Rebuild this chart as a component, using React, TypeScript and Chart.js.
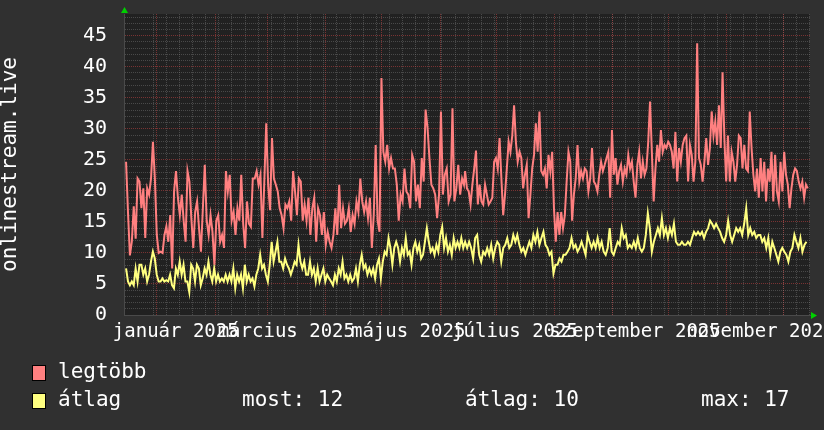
import React, { useEffect, useRef } from 'react';
import { Chart, registerables } from 'chart.js';

Chart.register(...registerables);

// ---------- data ----------
const SERIES_LABELS = ['legtöbb', 'átlag'];
const Y_TITLE = 'onlinestream.live';
const STATS_TEXT = ['most: 12', 'átlag: 10', 'max: 17'];

// x axis in days relative to 2025-01-01
const X_MIN = -17.6;
const X_MAX = 348.4;

const MONTH_LABELS = ['január 2025', 'március 2025', 'május 2025', 'július 2025', 'szeptember 2025', 'november 2025'];
const MONTH_LABEL_DAYS = [10, 69, 134, 191, 255, 322];
const MONTH_START_DAYS = [0, 31, 59, 90, 120, 151, 181, 212, 243, 273, 304, 334];
const WEEK_START_DAYS = Array.from({ length: 51 }, (_, i) => -2 + i * 7);

const Y_MIN = 0;
const Y_MAX = 48.5;
const Y_GRID_VALUES = Array.from({ length: 49 }, (_, i) => i);
const Y_LABEL_STEP = 5;

// day ranges covered by each half of the series
const MAX_H1_DAYS = [-16.5, 163.8];
const MAX_H2_DAYS = [164.4, 347.2];
const AVG_H1_DAYS = [-16.5, 163.4];
const AVG_H2_DAYS = [164.4, 346.5];

// "legtöbb" (max), first half
const MAX_H1 = [
  24.7, 16.6, 9.6, 11.8, 17.5, 12.3, 22, 21.5, 17.2, 20.4, 12.4, 20.4, 19.4, 22, 27.9, 22, 12.9, 10, 10.2, 10,
  12.9, 14.3, 11.8, 16.1, 7.5, 19.9, 23.2, 18.9, 16.1, 19.4, 15.2, 11.8, 23.2, 21.5, 15.6, 10.8, 16.6, 18.3, 14, 10.2,
  17.2, 24.2, 15.2, 12.9, 16.1, 13.4, 8.1, 15.2, 16.1, 11.8, 12.9, 10.8, 23.2, 19.9, 22.6, 15.2, 16.6, 12.9, 17.2, 15.2,
  22.6, 14.7, 10.8, 18.3, 14.7, 14.2, 22, 22, 23.2, 21, 22.6, 12.4, 21.5, 30.9, 21, 16.9, 28.5, 22, 21, 19.9,
  17.2, 16.1, 14, 17.8, 17.2, 18.3, 15.2, 23.2, 19.9, 16.1, 22, 21.5, 15.2, 17.8, 15.2, 18.9, 12.9, 17.2, 18.9, 11.8,
  17.2, 16.1, 12.9, 16.6, 11.3, 13.4, 11.8, 10.8, 12.9, 17.2, 12.9, 21, 14, 17.2, 14.7, 15.2, 17.2, 13.4, 16.1, 14.7,
  18.3, 16.6, 22, 18.3, 16.6, 18.3, 15.6, 18.9, 10.8, 16.1, 27.4, 15.2, 13.4, 38.2, 26.3, 24.7, 27.4, 23.6, 25.3, 23.6,
  23.6, 21, 15.2, 19.4, 18.3, 23.6, 19.9, 19.4, 17.2, 25.8, 24.7, 18.3, 21, 17.2, 25.3, 21.5, 33.1, 30.2, 25.3, 21,
  20.4, 19.4, 15.6, 19.4, 32.8, 19.4, 22.6, 23.6, 18.3, 19.4, 33.3, 18.3, 20.4, 24.2, 19.4, 22, 21,
];

// "legtöbb" (max), second half
const MAX_H2 = [
  23.2, 20.4, 19.9, 17.8, 21, 23.6, 26.5, 17.8, 21, 18.3, 17.8, 21, 19.4, 17.8, 18.3, 18.9, 24.7, 25.3, 23.6, 28.5,
  22, 16.1, 19.4, 23.6, 27.9, 26.3, 28.9, 33.8, 27.9, 24.7, 26.3, 25.3, 20.4, 22.6, 24.2, 15.6, 19.4, 23.6, 25.8, 30.9,
  26.3, 32.8, 23.2, 22.6, 23.6, 20.4, 25.8, 23.2, 26.3, 17.2, 11.8, 16.6, 12.9, 16.6, 14, 16.1, 21.5, 26.3, 24.7, 15.2,
  19.4, 22, 27.4, 21.5, 23.2, 22, 23.6, 23.2, 19.9, 22, 26.9, 21.5, 21, 19.9, 22.6, 24.7, 23.2, 24.2, 25.3, 26.3,
  18.9, 29.8, 22.6, 25.3, 21, 23.2, 24.2, 21.5, 23.6, 22.6, 25.8, 23.6, 24.7, 21.5, 18.9, 24.2, 26.3, 22, 24.7, 22.6,
  23.6, 27.9, 34.4, 26.3, 18.3, 23.6, 27.4, 24.7, 29.8, 26.3, 27.4, 26.9, 27.9, 27.4, 26.3, 23.6, 29.5, 21.5, 26.9, 24.7,
  27.4, 28.5, 28.9, 21.5, 27.4, 25.8, 21.5, 24.7, 43.8, 25.3, 24.2, 21.5, 24.7, 28.5, 24.2, 26.9, 32.8, 28.9, 31.2, 27.4,
  33.8, 26.9, 39.1, 28.5, 21.5, 28.9, 21.5, 26.3, 24.7, 21.5, 24.2, 28.9, 28.5, 23.6, 27.4, 23.6, 23.2, 32.8, 26.9, 22.6,
  19.9, 23.6, 18.9, 25.3, 19.9, 24.7, 18.3, 23.6, 21.5, 26.3, 18.3, 25.8, 19.9, 18.3, 24.7, 19.9, 26.3, 22.6, 21, 17.2,
  20.4, 22.6, 23.6, 23.2, 21.5, 20.4, 21.5, 18.9, 21, 20.4,
];

// "átlag" (average), first half
const AVG_H1 = [
  7.5, 5.4, 4.8, 5.4, 4.8, 7.5, 5.4, 8.1, 8.1, 6.5, 7.5, 5.4, 6.5, 8.6, 10.2, 9.1, 6.5, 5.4, 5.4, 5.9,
  5.4, 5.6, 5.4, 6.5, 4.8, 4.3, 7.5, 6.5, 8.6, 6.5, 8.1, 5.4, 5.4, 3.7, 8.1, 7.5, 5.4, 8.1, 7.5, 4.8,
  5.9, 7.5, 6.5, 8.6, 6.5, 5.4, 7.5, 5.4, 6.5, 5.4, 5.9, 5.4, 6.5, 5.4, 6.5, 5.4, 7.5, 4.3, 6.5, 5.4,
  6.5, 4.3, 8.1, 5.4, 6.5, 5.4, 5.9, 4.6, 6.5, 7.5, 9.7, 7.5, 8.1, 6.5, 5.4, 8.1, 11.8, 8.6, 10.2, 11.8,
  8.6, 8.6, 7.5, 9.1, 8.1, 7.5, 6.5, 7.5, 8.6, 8.1, 11.3, 8.6, 7.5, 8.6, 6.5, 6.5, 8.6, 6.5, 7.5, 5.4,
  7.5, 5.4, 6.5, 7.5, 5.4, 6.5, 5.9, 5.4, 4.8, 6.5, 5.4, 7.5, 6.5, 8.6, 5.9, 6.5, 5.4, 6.5, 5.4, 5.9,
  7.5, 5.4, 8.1, 9.7, 7.5, 8.1, 6.5, 7.5, 6.5, 7.5, 5.9, 8.1, 9.1, 5.9, 8.6, 10.2, 9.7, 12.4, 10.8, 8.1,
  10.8, 11.8, 10.8, 8.6, 10.8, 9.7, 12.4, 9.7, 10.2, 8.1, 10.8, 11.8, 10.2, 11.3, 9.1, 9.7, 11.8, 14, 11.8, 10.2,
  10.8, 9.7, 11.3, 10.2, 12.9, 14.2, 10.8, 12.4, 10.2, 11.3, 9.7, 12.4, 10.8, 11.8, 10.8, 12.4, 10.8,
];

// "átlag" (average), second half
const AVG_H2 = [
  11.8, 10.8, 11.8, 10.8, 9.1, 12.4, 12.9, 9.7, 8.6, 10.2, 9.7, 10.8, 9.7, 11.3, 9.1, 10.8, 11.8, 11.3, 8.6, 10.8,
  11.3, 12.4, 10.8, 11.3, 12.9, 11.8, 12.9, 11.3, 10.2, 10.8, 9.7, 10.8, 11.8, 10.8, 12.9, 11.8, 13.4, 11.3, 12.4, 13.4,
  11.3, 10.8, 9.7, 10.2, 6.7, 8.1, 8.1, 9.1, 8.6, 9.7, 9.7, 10.2, 10.8, 12.4, 10.8, 11.3, 10.2, 10.8, 11.8, 10.8,
  9.7, 12.9, 11.8, 10.8, 11.8, 10.8, 12.4, 10.8, 11.8, 10.2, 9.7, 10.8, 14, 10.2, 9.7, 10.8, 11.8, 11.3, 14, 12.4,
  12.9, 10.8, 11.3, 10.8, 11.8, 10.8, 12.4, 10.8, 10.2, 10.8, 12.9, 16.4, 14, 10.2, 11.8, 12.9, 14, 12.9, 15.6, 12.9,
  14, 12.4, 14, 12.9, 14.7, 11.8, 11.3, 11.3, 11.8, 11.3, 11.3, 11.8, 11.3, 12.4, 13.4, 12.9, 13.4, 12.9, 13.4, 12.4,
  13.4, 14, 15.2, 14.7, 14, 14.7, 14, 13.4, 12.4, 11.8, 12.9, 15.2, 12.9, 11.8, 12.9, 14, 13.4, 14, 12.9, 14.7,
  17.2, 12.9, 14, 12.9, 13.4, 12.4, 12.9, 12.9, 11.8, 12.4, 10.8, 12.4, 9.7, 11.8, 10.8, 9.7, 8.6, 10.2, 10.8, 10.2,
  9.7, 8.6, 10.2, 10.8, 12.9, 11.8, 10.8, 12.4, 10.2, 11.3, 11.8,
];

// ---------- style ----------
const MONO = '"DejaVu Sans Mono", monospace';
const BG = '#303030';
const CANVAS_BG = '#212121';
const GRID = 'rgba(128,128,128,0.42)';
const MGRID = 'rgba(210,70,70,0.5)';
const AXIS = '#4a4a4a';
const TEXT = '#ffffff';
const RED = '#ff8080';
const YELLOW = '#ffff80';
const ARROW = '#00d000';

const toPoints = (vals: number[], range: number[]) => {
  const step = (range[1] - range[0]) / (vals.length - 1);
  return vals.map((v, i) => ({ x: range[0] + i * step, y: v }));
};

const decorPlugin = {
  id: 'rrdDecor',
  beforeDraw(chart: any) {
    const { ctx, chartArea } = chart;
    ctx.save();
    ctx.fillStyle = BG;
    ctx.fillRect(0, 0, chart.width, chart.height);
    ctx.fillStyle = CANVAS_BG;
    ctx.fillRect(chartArea.left, chartArea.top, chartArea.right - chartArea.left, chartArea.bottom - chartArea.top);
    ctx.restore();
  },
  afterDraw(chart: any) {
    const { ctx, chartArea } = chart;
    const { left, top, right, bottom } = chartArea;
    ctx.save();
    // arrows
    ctx.fillStyle = ARROW;
    ctx.beginPath();
    ctx.moveTo(left + 0.5, top - 7);
    ctx.lineTo(left - 3, top - 1);
    ctx.lineTo(left + 4, top - 1);
    ctx.closePath();
    ctx.fill();
    ctx.beginPath();
    ctx.moveTo(right + 7, bottom + 0.5);
    ctx.lineTo(right + 1, bottom - 3);
    ctx.lineTo(right + 1, bottom + 4);
    ctx.closePath();
    ctx.fill();

    // legend
    const colors = [RED, YELLOW];
    const rowTop = [365, 393];
    ctx.font = `21px ${MONO}`;
    ctx.textBaseline = 'alphabetic';
    ctx.textAlign = 'left';
    SERIES_LABELS.forEach((lab, i) => {
      ctx.fillStyle = colors[i];
      ctx.fillRect(32, rowTop[i], 14, 16);
      ctx.strokeStyle = '#000';
      ctx.lineWidth = 1;
      ctx.strokeRect(32.5, rowTop[i] + 0.5, 13, 15);
      ctx.fillStyle = TEXT;
      ctx.fillText(lab, 58, rowTop[i] + 13);
    });
    const statX = [242, 465, 701];
    STATS_TEXT.forEach((t, i) => {
      ctx.fillText(t, statX[i], rowTop[1] + 13);
    });
    ctx.restore();
  },
};

export default function App() {
  const ref = useRef<HTMLCanvasElement | null>(null);
  useEffect(() => {
    if (!ref.current) return;
    const zeroPad = (s: any) => {
      s.paddingLeft = 0;
      s.paddingRight = 0;
      s.paddingTop = 0;
      s.paddingBottom = 0;
    };
    const lineStyle = (color: string) => ({
      borderColor: color,
      backgroundColor: color,
      borderWidth: 2,
      pointRadius: 0,
      tension: 0,
      fill: false,
      xAxisID: 'x',
      yAxisID: 'y',
    });
    const chart = new Chart(ref.current, {
      type: 'line',
      data: {
        datasets: [
          {
            label: SERIES_LABELS[0],
            data: [...toPoints(MAX_H1, MAX_H1_DAYS), ...toPoints(MAX_H2, MAX_H2_DAYS)],
            ...lineStyle(RED),
          },
          {
            label: SERIES_LABELS[1],
            data: [...toPoints(AVG_H1, AVG_H1_DAYS), ...toPoints(AVG_H2, AVG_H2_DAYS)],
            ...lineStyle(YELLOW),
          },
        ],
      },
      options: {
        responsive: false,
        animation: false,
        events: [],
        layout: { padding: { top: 14, right: 14, left: 0, bottom: 0 } },
        plugins: { legend: { display: false }, tooltip: { enabled: false } },
        scales: {
          x: {
            type: 'linear',
            position: 'bottom',
            weight: 0,
            min: X_MIN,
            max: X_MAX,
            afterBuildTicks: (s: any) => {
              s.ticks = WEEK_START_DAYS.map((v) => ({ value: v }));
            },
            afterFit: (s: any) => {
              s.height = 0;
              zeroPad(s);
            },
            ticks: { display: false, autoSkip: false },
            grid: { color: GRID, lineWidth: 1, drawTicks: false },
            border: { display: true, color: AXIS, width: 1, dash: [1, 1] },
          },
          xMonth: {
            type: 'linear',
            position: 'bottom',
            weight: 1,
            min: X_MIN,
            max: X_MAX,
            afterBuildTicks: (s: any) => {
              s.ticks = MONTH_START_DAYS.map((v) => ({ value: v }));
            },
            afterFit: (s: any) => {
              s.height = 0;
              zeroPad(s);
            },
            ticks: { display: false, autoSkip: false },
            grid: { color: MGRID, lineWidth: 1, drawTicks: false },
            border: { display: false, dash: [1, 1] },
          },
          xLabel: {
            type: 'linear',
            position: 'bottom',
            weight: 2,
            min: X_MIN,
            max: X_MAX,
            afterBuildTicks: (s: any) => {
              s.ticks = MONTH_LABEL_DAYS.map((v) => ({ value: v }));
            },
            afterFit: (s: any) => {
              s.height = 115;
              zeroPad(s);
            },
            ticks: {
              autoSkip: false,
              maxRotation: 0,
              minRotation: 0,
              padding: 6,
              color: TEXT,
              font: { family: MONO, size: 19 },
              callback: (_v: any, i: number) => MONTH_LABELS[i],
            },
            grid: { display: false, drawTicks: false },
            border: { display: false },
          },
          y: {
            type: 'linear',
            position: 'left',
            min: Y_MIN,
            max: Y_MAX,
            afterBuildTicks: (s: any) => {
              s.ticks = Y_GRID_VALUES.map((v) => ({ value: v }));
            },
            afterFit: (s: any) => {
              s.width = 124;
              zeroPad(s);
            },
            ticks: {
              autoSkip: false,
              padding: 17,
              color: TEXT,
              font: { family: MONO, size: 20 },
              callback: (v: any) => (Number(v) % Y_LABEL_STEP === 0 ? String(v) : ''),
            },
            grid: {
              drawTicks: false,
              lineWidth: 1,
              color: (c: any) => (c.tick && c.tick.value % Y_LABEL_STEP === 0 ? MGRID : GRID),
            },
            border: { display: true, color: AXIS, width: 1, dash: [1, 1] },
            title: {
              display: true,
              text: Y_TITLE,
              color: TEXT,
              font: { family: MONO, size: 21, lineHeight: 1.05 },
              padding: { top: 0, bottom: 0 },
            },
          },
        },
      } as any,
      plugins: [decorPlugin],
    });
    return () => chart.destroy();
  }, []);

  return (
    <div style={{ position: 'absolute', left: 0, top: 0, width: 824, height: 430 }}>
      <canvas ref={ref} width={824} height={430} style={{ display: 'block', width: 824, height: 430 }} />
    </div>
  );
}
